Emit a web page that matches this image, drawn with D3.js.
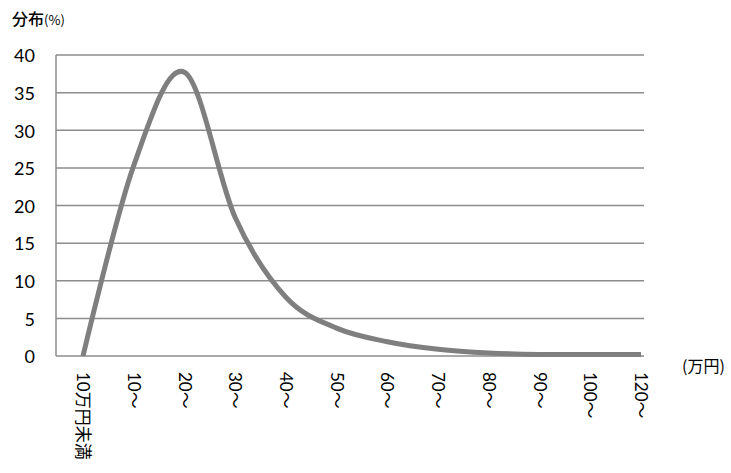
<!DOCTYPE html>
<html><head><meta charset="utf-8">
<script src="https://cdn.jsdelivr.net/npm/d3@7"></script>
<style>
html,body{margin:0;padding:0;background:#fff;}
text{fill:#000;}
</style></head>
<body>
<svg id="chart" width="731" height="473"></svg>
<script>
const categories = ["10万円未満","10〜","20〜","30〜","40〜","50〜","60〜","70〜","80〜","90〜","100〜","120〜"];
const values = [0, 25.3, 37.7, 18.4, 7.8, 3.7, 1.9, 0.9, 0.4, 0.2, 0.2, 0.2];
const yTicks = [0,5,10,15,20,25,30,35,40];
const yLabel = "分布";
const yUnit = "(%)";
const xUnit = "(万円)";

const svg = d3.select("#chart");
const plotL = 56, plotR = 644, plotT = 55, plotB = 356;
const numFont = "Lato, 'Noto Sans CJK JP', sans-serif";
const cjkFont = "'Noto Sans CJK JP', sans-serif";

const x = d3.scalePoint().domain(categories).range([83, 641]);
const y = d3.scaleLinear().domain([0, 40]).range([plotB, plotT]);

// gridlines
svg.append("g").selectAll("line").data(yTicks).join("line")
  .attr("x1", plotL).attr("x2", plotR)
  .attr("y1", d => y(d)).attr("y2", d => y(d))
  .attr("stroke", "#8c8c8c").attr("stroke-width", 1.5);
// left axis line
svg.append("line").attr("x1", plotL).attr("x2", plotL)
  .attr("y1", plotT).attr("y2", plotB)
  .attr("stroke", "#8c8c8c").attr("stroke-width", 1.5);

// y tick labels
const yAxis = d3.axisLeft(y).tickValues(yTicks).tickSize(0).tickPadding(0);
const gy = svg.append("g").attr("transform", `translate(35,0)`).call(yAxis);
gy.select(".domain").remove();
gy.selectAll("text").attr("font-family", numFont).attr("font-size", 18).attr("fill", "#000").attr("dy", "0.38em");

// x labels rotated
const gx = svg.append("g");
gx.selectAll("text").data(categories).join("text")
  .attr("transform", d => `translate(${x(d)},372) rotate(90)`)
  .attr("text-anchor", "start")
  .attr("dy", "0.35em")
  .attr("font-family", numFont)
  .attr("font-size", 17)
  .text(d => d);

// line
const line = d3.line()
  .x((d, i) => x(categories[i]))
  .y(d => y(d))
  .curve(d3.curveCatmullRom.alpha(0));
svg.append("path").datum(values)
  .attr("d", line)
  .attr("fill", "none")
  .attr("stroke", "#7f7f7f")
  .attr("stroke-width", 5);

// titles
const t = svg.append("text").attr("x", 12).attr("y", 25).attr("font-family", cjkFont);
t.append("tspan").attr("font-size", 16).attr("font-weight", 500).text(yLabel);
t.append("tspan").attr("font-size", 13).text(yUnit);

svg.append("text").attr("x", 682).attr("y", 372)
  .attr("font-family", cjkFont).attr("font-size", 16).text(xUnit);
</script>
</body></html>
